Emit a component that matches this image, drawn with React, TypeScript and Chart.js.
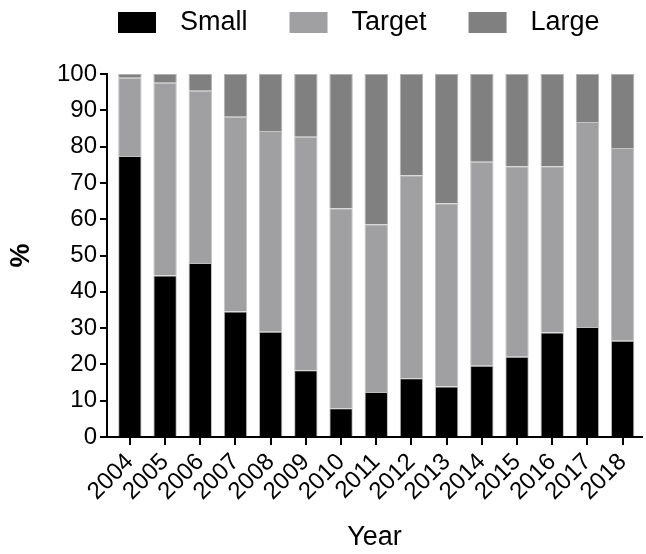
import React, { useEffect, useRef } from "react";
import { Chart, registerables } from "chart.js";

Chart.register(...registerables);

const YEARS = ["2004", "2005", "2006", "2007", "2008", "2009", "2010", "2011", "2012", "2013", "2014", "2015", "2016", "2017", "2018"];
const SMALL = [77.4, 44.5, 47.9, 34.6, 29.0, 18.4, 7.9, 12.4, 16.2, 13.9, 19.6, 22.1, 28.8, 30.3, 26.5];
const TARGET = [21.6, 53.1, 47.5, 53.6, 55.3, 64.3, 55.1, 46.2, 55.9, 50.5, 56.2, 52.5, 45.8, 56.5, 53.1];
const LARGE = [1.0, 2.4, 4.6, 11.8, 15.7, 17.3, 37.0, 41.4, 27.9, 35.6, 24.2, 25.4, 25.4, 13.2, 20.4];
const Y_TICKS = [0, 10, 20, 30, 40, 50, 60, 70, 80, 90, 100];

const FONT = "'Liberation Sans', Arial, Helvetica, sans-serif";

const legendPlugin = {
  id: "customLegend",
  afterDraw(chart: any) {
    const ctx = chart.ctx;
    ctx.save();
    ctx.font = `27px ${FONT}`;
    ctx.textBaseline = "middle";
    ctx.textAlign = "left";
    let x = 118;
    const y = 12;
    chart.data.datasets.forEach((ds: any) => {
      ctx.fillStyle = ds.backgroundColor;
      ctx.fillRect(x, y, 38, 21);
      x += 38 + 24;
      ctx.fillStyle = "#000";
      ctx.fillText(ds.label, x, y + 11);
      x += ctx.measureText(ds.label).width + 42;
    });
    ctx.restore();
  },
};

export default function App() {
  const ref = useRef<HTMLCanvasElement>(null);
  useEffect(() => {
    if (!ref.current) return;
    const years = YEARS.map((y) => Number(y));
    const chart = new Chart(ref.current, {
      type: "bar",
      data: {
        labels: YEARS,
        datasets: [
          { label: "Small", data: SMALL, backgroundColor: "#000000", borderColor: "#bdbdbd", borderWidth: 1 },
          { label: "Target", data: TARGET, backgroundColor: "#a0a0a3", borderColor: "#c4c4c4", borderWidth: 1 },
          { label: "Large", data: LARGE, backgroundColor: "#808080", borderColor: "#b0b0b0", borderWidth: 1 },
        ],
      },
      options: {
        responsive: false,
        animation: false,
        layout: { padding: { top: 74, left: 0, right: 0, bottom: 0 } },
        datasets: { bar: { barPercentage: 0.665, categoryPercentage: 1 } },
        plugins: { legend: { display: false }, tooltip: { enabled: false } },
        scales: {
          x: {
            type: "linear",
            stacked: true,
            offset: false,
            min: years[0] - 0.65,
            max: years[years.length - 1] + 0.55,
            afterBuildTicks: (scale: any) => {
              scale.ticks = years.map((v) => ({ value: v }));
            },
            afterFit: (scale: any) => {
              scale.height = 117;
            },
            grid: { display: true, offset: false, drawOnChartArea: false, drawTicks: true, tickLength: 8, color: "#000", lineWidth: 2 },
            border: { display: true, color: "#000", width: 2 },
            ticks: {
              autoSkip: false,
              minRotation: 45,
              maxRotation: 45,
              padding: 3,
              color: "#000",
              font: { family: FONT, size: 24 },
              callback: (v: any) => String(v),
            },
            title: { display: true, text: "Year", color: "#000", font: { family: FONT, size: 27 }, padding: { top: 0, bottom: 0 } },
          },
          y: {
            stacked: true,
            min: 0,
            max: 100,
            afterBuildTicks: (scale: any) => {
              scale.ticks = Y_TICKS.map((v) => ({ value: v }));
            },
            afterFit: (scale: any) => {
              scale.width = 107;
            },
            grid: { display: true, drawOnChartArea: false, drawTicks: true, tickLength: 7, color: "#000", lineWidth: 2 },
            border: { display: true, color: "#000", width: 2 },
            ticks: { padding: 3, color: "#000", font: { family: FONT, size: 24 } },
            title: { display: true, text: "%", color: "#000", font: { family: FONT, size: 27, weight: "bold" }, padding: { top: 5, bottom: 0 } },
          },
        },
      },
      plugins: [legendPlugin],
    });
    return () => chart.destroy();
  }, []);
  return (
    <div style={{ position: "absolute", left: 0, top: 0, width: 646, height: 554, background: "#fff" }}>
      <canvas ref={ref} width={646} height={554} style={{ width: 646, height: 554 }} />
    </div>
  );
}
